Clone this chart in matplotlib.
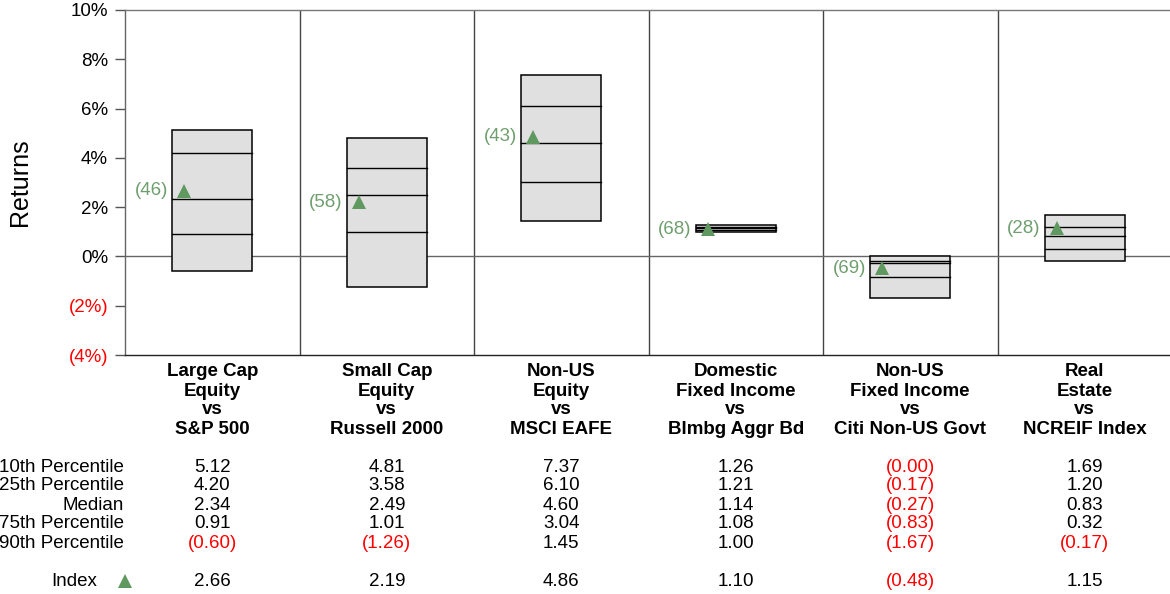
import matplotlib
matplotlib.use("Agg")
import matplotlib.pyplot as plt
from matplotlib.patches import Rectangle
from matplotlib.transforms import blended_transform_factory

plt.rcParams['font.family'] = ['Liberation Sans', 'DejaVu Sans']

categories = [
    "Large Cap\nEquity\nvs\nS&P 500",
    "Small Cap\nEquity\nvs\nRussell 2000",
    "Non-US\nEquity\nvs\nMSCI EAFE",
    "Domestic\nFixed Income\nvs\nBlmbg Aggr Bd",
    "Non-US\nFixed Income\nvs\nCiti Non-US Govt",
    "Real\nEstate\nvs\nNCREIF Index",
]
p10 = [5.12, 4.81, 7.37, 1.26, -0.00, 1.69]
p25 = [4.20, 3.58, 6.10, 1.21, -0.17, 1.20]
median = [2.34, 2.49, 4.60, 1.14, -0.27, 0.83]
p75 = [0.91, 1.01, 3.04, 1.08, -0.83, 0.32]
p90 = [-0.60, -1.26, 1.45, 1.00, -1.67, -0.17]
index_vals = [2.66, 2.19, 4.86, 1.10, -0.48, 1.15]
ranks = [46, 58, 43, 68, 69, 28]
p10_text = ["5.12", "4.81", "7.37", "1.26", "(0.00)", "1.69"]
row_labels = ["10th Percentile", "25th Percentile", "Median", "75th Percentile", "90th Percentile"]
yticks = [-4, -2, 0, 2, 4, 6, 8, 10]

GREEN = "#5f995f"
LABEL_GREEN = "#6f9f6f"
RED = "#ff0000"
FS = 13.5
BL = 6.5  # px from visual centre to baseline

W, H = 1170, 594
fig = plt.figure(figsize=(W / 100, H / 100), dpi=100)
ax = fig.add_axes([125 / W, 1 - 355 / H, 1047 / W, 345 / H])
n = len(categories)
ax.set_xlim(-0.5, n - 0.5)
ax.set_ylim(-4, 10)

cat_px = 1047 / n
bw = 80 / cat_px

for i in range(n):
    left = i - bw / 2
    ax.add_patch(Rectangle((left, p90[i]), bw, p10[i] - p90[i], facecolor="#e0e0e0",
                           edgecolor="black", lw=1.1, zorder=3))
    for v in (p25[i], median[i], p75[i]):
        ax.plot([left, left + bw], [v, v], color="black", lw=1.0, zorder=4)
    tx = left + 12 / cat_px
    ax.plot([tx], [index_vals[i]], marker="^", color=GREEN, markersize=10,
            markeredgewidth=0, zorder=5, linestyle="none")
    ax.text(left - 4 / cat_px, index_vals[i], f"({ranks[i]})", color=LABEL_GREEN,
            fontsize=FS, ha="right", va="center", zorder=6)

for i in range(1, n):
    ax.axvline(i - 0.5, color="#444444", lw=1.0, zorder=1)
ax.axhline(0, color="#666666", lw=1.0, zorder=1)

ax.set_yticks(yticks)
ax.set_yticklabels([f"{v}%" if v >= 0 else f"({-v}%)" for v in yticks], fontsize=FS)
for lab, v in zip(ax.get_yticklabels(), yticks):
    if v < 0:
        lab.set_color(RED)
ax.tick_params(axis="y", length=7.2, width=1, color="#555555", pad=5)
ax.set_xticks([])
ax.spines["right"].set_visible(False)
ax.spines["left"].set_color("#666666")
ax.spines["top"].set_color("#777777")
ax.spines["bottom"].set_color("#222222")
for s in ax.spines.values():
    s.set_linewidth(1.0)
ax.set_ylabel("Returns", fontsize=18)
ax.yaxis.set_label_coords(-93 / 1047, 0.5)

tr = blended_transform_factory(ax.transData, fig.transFigure)

def fy(y):
    return 1 - (y + BL) / H

for i, c in enumerate(categories):
    for j, line in enumerate(c.split("\n")):
        ax.text(i, fy(370 + 19 * j), line, transform=tr, ha="center", va="baseline",
                fontsize=FS, fontweight="bold", clip_on=False)

def fmt(v):
    s = f"{abs(v):.2f}"
    return (f"({s})", RED) if v < 0 else (s, "black")

rows = [p10, p25, median, p75, p90]
row_y = [465, 484, 503, 522, 542]
for r, (lab, vals, y) in enumerate(zip(row_labels, rows, row_y)):
    fig.text(124 / W, fy(y), lab, ha="right", va="baseline", fontsize=FS)
    for i, v in enumerate(vals):
        if r == 0:
            s = p10_text[i]
            col = RED if s.startswith("(") else "black"
        else:
            s, col = fmt(v)
        ax.text(i, fy(y), s, transform=tr, ha="center", va="baseline", fontsize=FS,
                color=col, clip_on=False)

iy = 580
fig.text(97 / W, fy(iy), "Index", ha="right", va="baseline", fontsize=FS)
fig.lines.append(plt.Line2D([125 / W], [1 - (iy + 1) / H], transform=fig.transFigure,
                            marker="^", color=GREEN, markersize=10, markeredgewidth=0,
                            linestyle="none"))
for i, v in enumerate(index_vals):
    s, col = fmt(v)
    ax.text(i, fy(iy), s, transform=tr, ha="center", va="baseline", fontsize=FS,
            color=col, clip_on=False)

fig.savefig("out.png", dpi=100)
